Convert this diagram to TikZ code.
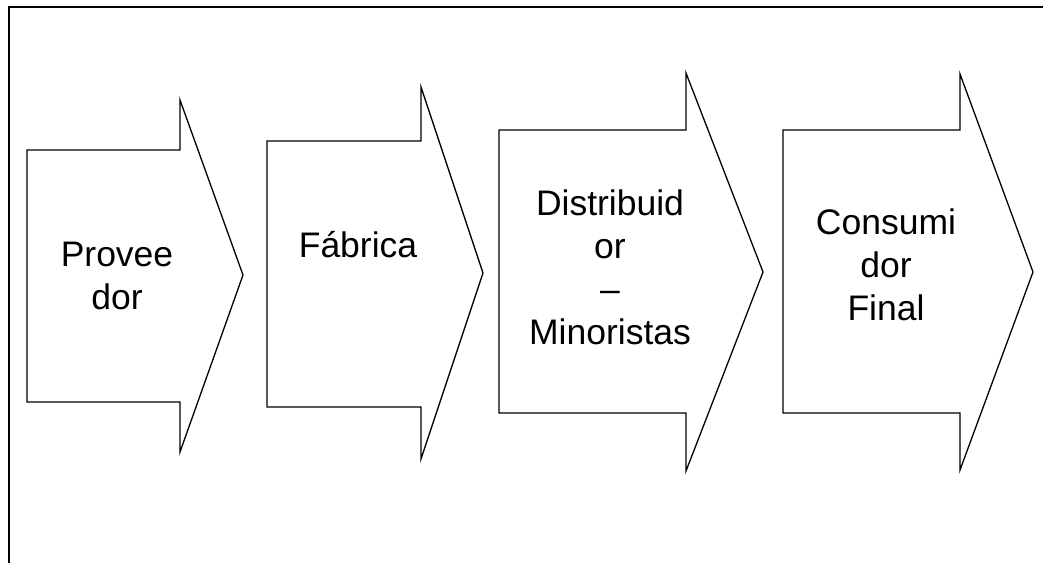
\documentclass[tikz,border=0pt]{standalone}
\usepackage{fontspec}
\setmainfont{Liberation Sans}
\begin{document}
\begin{tikzpicture}[x=1pt,y=-1pt,
  frameline/.style={line width=2.2pt,line cap=rect},
  arrowshape/.style={draw=black,line width=1.3pt,line join=miter,fill=white},
  label/.style={anchor=base,align=center,inner sep=0pt,font=\fontsize{35.5}{43}\selectfont}]
\useasboundingbox (0,0) rectangle (1043,562);
\draw[frameline] (9,564) -- (9,7) -- (1045,7);
% arrow 1
\draw[arrowshape] (27,150) -- (180,150) -- (180,100) -- (243,275) -- (180,452) -- (180,402) -- (27,402) -- cycle;
% arrow 2
\draw[arrowshape] (267,141) -- (421,141) -- (421,87) -- (483,273) -- (421,459) -- (421,407) -- (267,407) -- cycle;
% arrow 3
\draw[arrowshape] (499,130) -- (686,130) -- (686,73) -- (763,272) -- (686,471) -- (686,413) -- (499,413) -- cycle;
% arrow 4
\draw[arrowshape] (783,130) -- (960,130) -- (960,74) -- (1033,272) -- (960,470) -- (960,413) -- (783,413) -- cycle;
\node[label] (t1) at (117,309) {Provee\\dor};
\node[label] (t2) at (358,257) {Fábrica};
\node[label] (t3) at (610,344) {Distribuid\\or\\–\\Minoristas};
\node[label] (t4) at (886,320) {Consumi\\dor\\Final};
\end{tikzpicture}
\end{document}
